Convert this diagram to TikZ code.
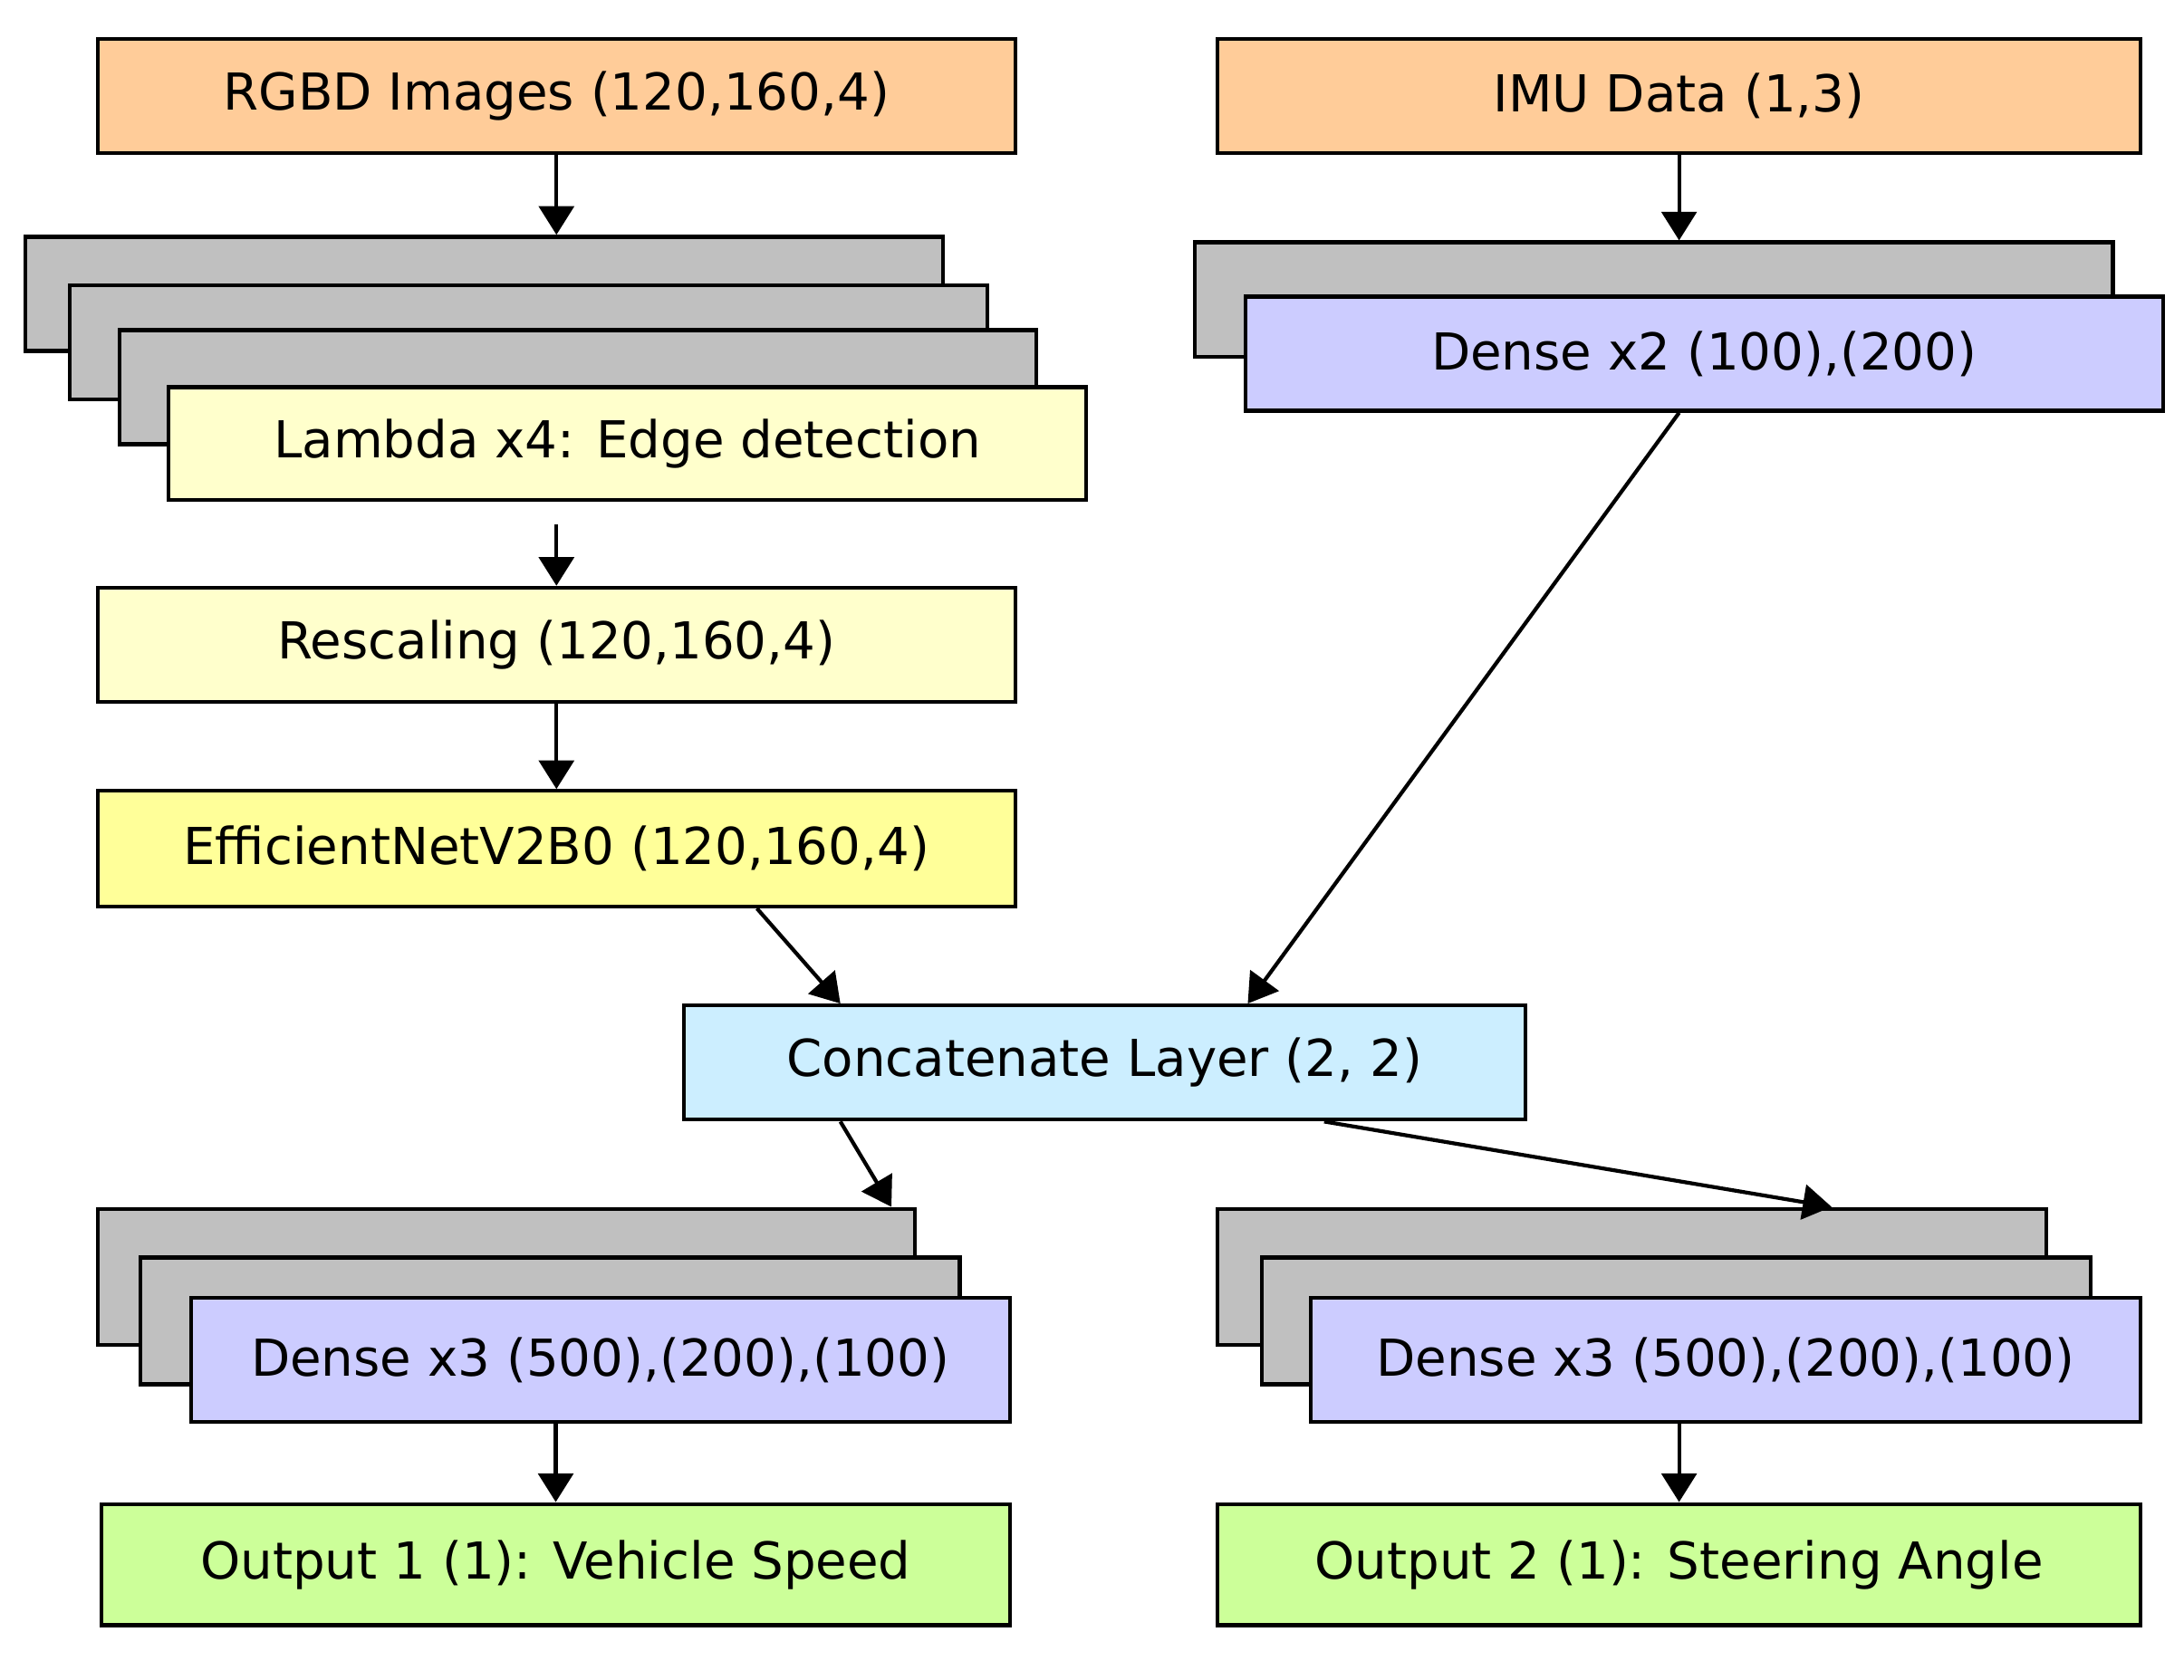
\documentclass[tikz,border=0pt]{standalone}
\usepackage{fontspec}
\setmainfont{DejaVu Sans}
\usepackage{tikz}
\usetikzlibrary{arrows.meta}
\definecolor{inC}{HTML}{FFCC99}
\definecolor{lamC}{HTML}{FFFFCC}
\definecolor{effC}{HTML}{FFFF99}
\definecolor{denC}{HTML}{CCCCFF}
\definecolor{catC}{HTML}{CCEEFF}
\definecolor{outC}{HTML}{CCFF99}
\definecolor{stkC}{HTML}{C0C0C0}
\tikzset{box/.style={draw,line width=1.2pt,inner sep=0pt,font=\fontsize{16}{18}\selectfont},
  stk/.style={box,fill=stkC},
  arr/.style={-{Triangle[length=9pt,width=11pt]},line width=1.2pt}
}
% layer box given by its corners
\newcommand{\layer}[7]{\node[box,#6,minimum width={(#4-#2)*0.015376cm},minimum height={(#5-#3)*0.015376cm}] (#1) at ({(#2+#4)/2},{(#3+#5)/2}) {#7};}

\begin{document}
\begin{tikzpicture}[x=0.015376cm,y=-0.015376cm]
                \useasboundingbox[fill=white] (0,0) rectangle (1568,1206);
                % inputs
                \layer{rgbd}{70}{28}{729}{110}{fill=inC}{RGBD Images (120,160,4)}
                \layer{imu}{874}{28}{1537}{110}{fill=inC}{IMU Data (1,3)}
                
                % lambda stack
                \layer{lamA}{18}{170}{677}{252}{stk}{}
                \layer{lamB}{50}{205}{709}{287}{stk}{}
                \layer{lamC}{86}{237}{744}{319}{stk}{}
                \layer{lam}{121}{278}{780}{359}{fill=lamC}{Lambda x4: Edge detection}
                \layer{resc}{70}{422}{729}{504}{fill=lamC}{Rescaling (120,160,4)}
                \layer{eff}{70}{568}{729}{651}{fill=effC}{EfficientNetV2B0 (120,160,4)}
                
                % imu branch
                \layer{denA}{858}{174}{1517}{256}{stk}{}
                \layer{den}{894}{213}{1553}{295}{fill=denC}{Dense x2 (100),(200)}
                
                \layer{cat}{491}{722}{1095}{804}{fill=catC}{Concatenate Layer (2, 2)}
                
                % heads
                \layer{spdA}{70}{868}{657}{966}{stk}{}
                \layer{spdB}{101}{903}{689}{994}{stk}{}
                \layer{spd}{137}{932}{725}{1021}{fill=denC}{Dense x3 (500),(200),(100)}
                \layer{strA}{874}{868}{1469}{966}{stk}{}
                \layer{strB}{906}{903}{1501}{994}{stk}{}
                \layer{str}{941}{932}{1537}{1021}{fill=denC}{Dense x3 (500),(200),(100)}
                
                \layer{outA}{73}{1080}{725}{1167}{fill=outC}{Output 1 (1): Vehicle Speed}
                \layer{outB}{874}{1080}{1537}{1167}{fill=outC}{Output 2 (1): Steering Angle}
                
                % arrows
                \draw[arr] (rgbd.south) -- (lamA.north -| rgbd.south);
                \draw[arr] (imu.south) -- (denA.north -| imu.south);
                \draw[arr] ([yshift=-7]lam.south -| resc.north) -- (resc.north);
                \draw[arr] (resc.south) -- (eff.north);
                \draw[arr] ([xshift=63]eff.south) -- ([xshift=-83]cat.north);
                \draw[arr] (den.south -| imu.south) -- ([xshift=45]cat.north);
                \draw[arr] ([xshift=-83]cat.south) -- ([xshift=121]spdA.north);
                \draw[arr] ([xshift=69]cat.south) -- ([xshift=-68]strA.north east);
                \draw[arr] (spd.south -| outA.north) -- (outA.north);
                \draw[arr] (str.south -| imu.south) -- (outB.north -| imu.south);
            \end{tikzpicture}
\end{document}
